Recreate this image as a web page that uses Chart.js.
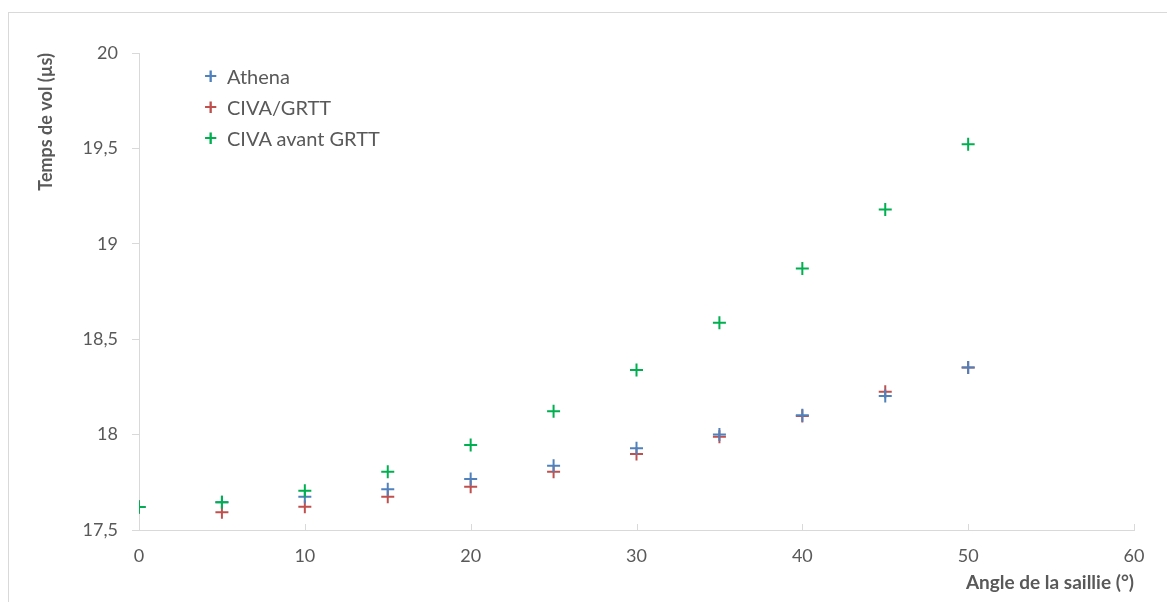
<!DOCTYPE html>
<html>
<head>
<meta charset="utf-8">
<script src="https://cdn.jsdelivr.net/npm/chart.js@4"></script>
<style>
  html, body { margin: 0; padding: 0; background: #fff; }
  #wrap { position: relative; width: 1167px; height: 602px; overflow: hidden; }
  #frame { position: absolute; left: 8px; top: 12px; right: -2px; bottom: -2px;
           border-top: 1px solid #d9d9d9; border-left: 1px solid #d9d9d9; }
  #legend { position: absolute; left: 204px; top: 60px; font-family: Lato, "Open Sans", sans-serif;
            font-size: 20px; color: #595959; }
  #legend div { height: 31px; line-height: 30px; white-space: nowrap; }
  #legend span.mk { display: inline-block; width: 23px; font-size: 23px; font-weight: bold; }
</style>
</head>
<body>
<div id="wrap">
  <canvas id="chart" width="1167" height="602"></canvas>
  <div id="frame"></div>
  <div id="legend"></div>
</div>
<script>
// ── données ────────────────────────────────────────────────────────────────
var angles     = [0, 5, 10, 15, 20, 25, 30, 35, 40, 45, 50];
var athena     = [17.62, 17.645, 17.674, 17.713, 17.767, 17.837, 17.928, 18.001, 18.102, 18.202, 18.352];
var civaGrtt   = [17.62, 17.593, 17.622, 17.674, 17.727, 17.805, 17.898, 17.989, 18.097, 18.224, 18.352];
var civaAvant  = [17.62, 17.645, 17.706, 17.805, 17.945, 18.123, 18.338, 18.586, 18.871, 19.180, 19.522];
var seriesNames = ["Athena", "CIVA/GRTT", "CIVA avant GRTT"];
var seriesColors = ["#4f81bd", "#c0504d", "#00b050"];
var xTicks = [0, 10, 20, 30, 40, 50, 60];
var yTicks = [17.5, 18, 18.5, 19, 19.5, 20];

function pts(vals) {
  return angles.map(function(a, i) { return { x: a, y: vals[i] }; });
}

// ── légende ────────────────────────────────────────────────────────────────
document.getElementById("legend").innerHTML = seriesNames.map(function(n, i) {
  return "<div><span class=\"mk\" style=\"color:" + seriesColors[i] + "\">+</span>" + n + "</div>";
}).join("");

// petites graduations vers l'intérieur sur l'axe X
var innerTicks = {
  id: "innerTicks",
  afterDraw: function(chart) {
    var ctx = chart.ctx, xs = chart.scales.x, bottom = chart.chartArea.bottom;
    ctx.save();
    ctx.strokeStyle = "#d9d9d9";
    ctx.lineWidth = 1;
    xTicks.forEach(function(v) {
      var px = Math.round(xs.getPixelForValue(v)) + 0.5;
      ctx.beginPath();
      ctx.moveTo(px, bottom);
      ctx.lineTo(px, bottom - 6);
      ctx.stroke();
    });
    ctx.restore();
  }
};

var font = "Lato, 'Open Sans', sans-serif";
var mk = function(label, vals, color, order) {
  return {
    label: label, data: pts(vals), order: order,
    pointStyle: "cross", pointRadius: 6.5, pointHoverRadius: 6.5,
    borderColor: color, backgroundColor: color, pointBorderWidth: 2, showLine: false
  };
};

new Chart(document.getElementById("chart").getContext("2d"), {
  type: "scatter",
  data: {
    datasets: [
      mk(seriesNames[2], civaAvant, seriesColors[2], 0),
      mk(seriesNames[0], athena,    seriesColors[0], 1),
      mk(seriesNames[1], civaGrtt,  seriesColors[1], 2)
    ]
  },
  options: {
    responsive: false, animation: false,
    layout: { padding: { top: 53, right: 33, left: 0, bottom: 0 } },
    plugins: { legend: { display: false }, tooltip: { enabled: false } },
    scales: {
      x: {
        type: "linear", min: 0, max: 60,
        afterBuildTicks: function(s) { s.ticks = xTicks.map(function(v) { return { value: v }; }); },
        afterFit: function(s) { s.height = 72; },
        grid: { drawOnChartArea: false, drawTicks: false },
        border: { color: "#d9d9d9", width: 1 },
        ticks: { color: "#595959", font: { family: font, size: 18 }, padding: 15, maxRotation: 0 },
        title: { display: true, text: "Angle de la saillie (°)", align: "end", color: "#595959",
                 font: { family: font, size: 19, weight: "bold" }, padding: { top: 0, bottom: 8 } }
      },
      y: {
        type: "linear", min: 17.5, max: 20,
        afterBuildTicks: function(s) { s.ticks = yTicks.map(function(v) { return { value: v }; }); },
        afterFit: function(s) { s.width = 139; },
        grid: { drawOnChartArea: false, drawTicks: true, tickLength: 7, color: "#d9d9d9" },
        border: { color: "#d9d9d9", width: 1 },
        ticks: {
          color: "#595959", font: { family: font, size: 18 }, padding: 14,
          callback: function(v) { return String(v).replace(".", ","); }
        },
        title: { display: true, text: "Temps de vol (µs)", align: "end", color: "#595959",
                 font: { family: font, size: 18, weight: "bold" }, padding: { top: 35, bottom: 0 } }
      }
    }
  },
  plugins: [innerTicks]
});
</script>
</body>
</html>
